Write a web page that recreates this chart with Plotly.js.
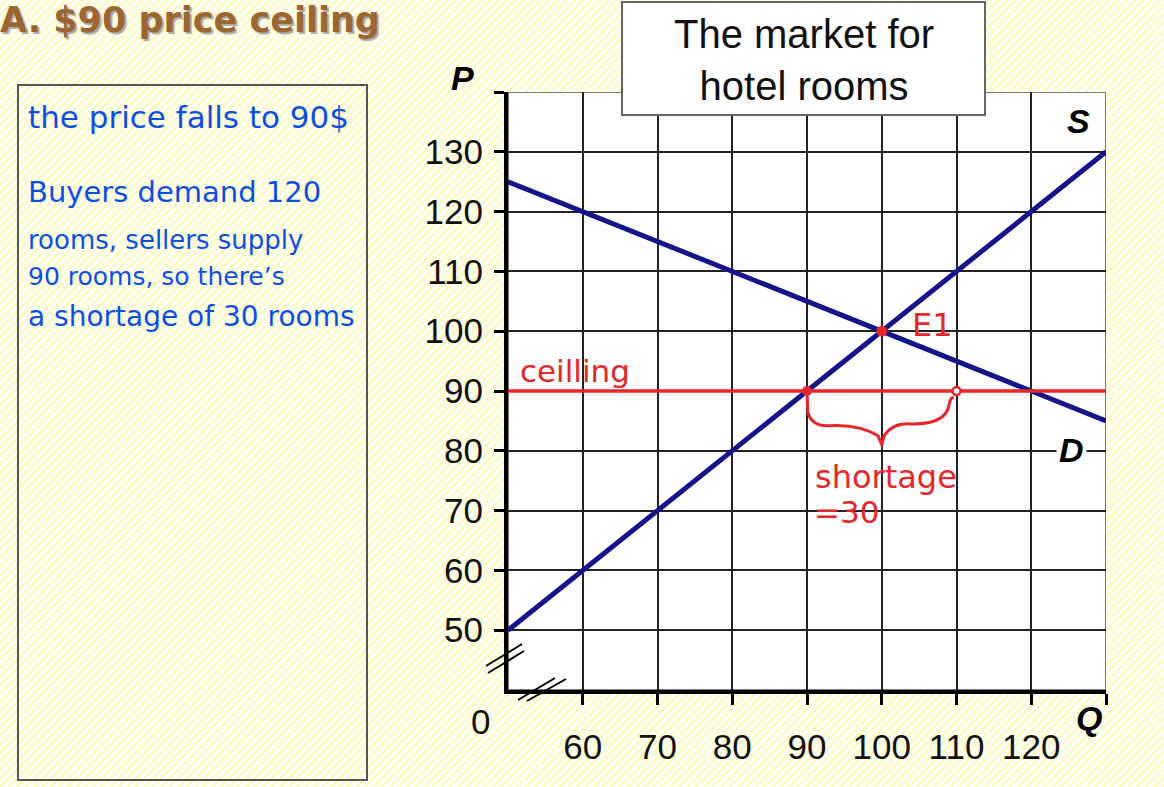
<!DOCTYPE html>
<html>
<head>
<meta charset="utf-8">
<script src="https://cdn.plot.ly/plotly-3.0.1.min.js"></script>
<style>
  html, body { margin: 0; padding: 0; }
  body {
    width: 1164px; height: 787px; overflow: hidden;
    background: repeating-linear-gradient(135deg, #ffffff 0px, #ffffff 3px, #fcfcc4 3px, #fcfcc4 6px);
  }
  #chart { width: 1164px; height: 787px; }
</style>
</head>
<body>
<div id="chart"></div>
<script>
// ---- data ----
const quantityTicks = [60, 70, 80, 90, 100, 110, 120, 130];
const quantityTickLabels = ['60', '70', '80', '90', '100', '110', '120', ''];
const priceTicks = [50, 60, 70, 80, 90, 100, 110, 120, 130, 140];
const priceTickLabels = ['50', '60', '70', '80', '90', '100', '110', '120', '130', ''];
const supplyQ = [50, 130];
const supplyP = [50, 130];
const demandQ = [50, 130];
const demandP = [125, 85];
const ceilingQ = [50, 130];
const ceilingP = [90, 90];
const equilibriumQ = [100];
const equilibriumP = [100];
const ceilingDotsQ = [90];
const ceilingDotsP = [90];
const markedQ = [110];
const markedP = [90];
const noteLines = [
  'the price falls to 90$',
  'Buyers demand 120',
  'rooms, sellers supply',
  '90 rooms, so there\u2019s',
  'a shortage of 30 rooms'
];

// ---- layout helpers (pixel placement) ----
const W = 1164, H = 787;
const px = x => x / W;
const py = y => 1 - y / H;

const navy = '#15158a';
const red = '#e5262a';
const blue = '#0c4fe0';
const hand = 'DejaVu Sans, sans-serif';

const traces = [
  { x: supplyQ, y: supplyP, mode: 'lines', line: { color: navy, width: 5 }, hoverinfo: 'skip', name: 'S' },
  { x: demandQ, y: demandP, mode: 'lines', line: { color: navy, width: 5 }, hoverinfo: 'skip', name: 'D' },
  { x: ceilingQ, y: ceilingP, mode: 'lines', line: { color: red, width: 3.5 }, hoverinfo: 'skip', name: 'ceiling' },
  { x: equilibriumQ, y: equilibriumP, mode: 'markers', marker: { color: red, size: 11 }, hoverinfo: 'skip', cliponaxis: false },
  { x: ceilingDotsQ, y: ceilingDotsP, mode: 'markers', marker: { color: red, size: 10 }, hoverinfo: 'skip', cliponaxis: false },
  { x: markedQ, y: markedP, mode: 'markers', marker: { color: 'white', size: 8, line: { color: red, width: 2.5 } }, hoverinfo: 'skip', cliponaxis: false }
];

// brace under the ceiling between the two marked quantities
function bracePath(xa, xb, y) {
  const m = (xa + xb) / 2;
  return `M ${xa} ${y} L ${xa + 0.1} ${y - 3.5} Q ${xa + 0.6} ${y - 6} ${xa + 3} ${y - 5.8}`
       + ` Q ${m - 3} ${y - 5.5} ${m - 0.5} ${y - 7.5} L ${m} ${y - 9}`
       + ` L ${m + 0.3} ${y - 7.5} Q ${m + 1.5} ${y - 5.2} ${m + 4} ${y - 5.5}`
       + ` Q ${xb - 1.5} ${y - 5.6} ${xb - 1} ${y - 2.4} Q ${xb - 0.9} ${y - 1.2} ${xb - 0.4} ${y - 1}`;
}

const shapes = [
  // plot frame (top/right)
  { type: 'rect', xref: 'x', yref: 'y', x0: 50, x1: 130, y0: 40, y1: 140, line: { color: '#777', width: 2 }, layer: 'below' },
  // brace
  { type: 'path', xref: 'x', yref: 'y', path: bracePath(ceilingDotsQ[0], markedQ[0], ceilingP[0]), line: { color: red, width: 3 } },
  // title box
  { type: 'rect', xref: 'paper', yref: 'paper', x0: px(622), x1: px(985), y0: py(115), y1: py(2), fillcolor: 'white', line: { color: '#666', width: 2 }, layer: 'above' },
  // notes box
  { type: 'rect', xref: 'paper', yref: 'paper', x0: px(18), x1: px(367), y0: py(780), y1: py(85), line: { color: '#555', width: 2 } },
  // axis break marks
  { type: 'line', xref: 'paper', yref: 'paper', x0: px(486), y0: py(666), x1: px(522), y1: py(644), line: { color: 'black', width: 2 } },
  { type: 'line', xref: 'paper', yref: 'paper', x0: px(488), y0: py(673), x1: px(524), y1: py(651), line: { color: 'black', width: 2 } },
  { type: 'line', xref: 'paper', yref: 'paper', x0: px(518), y0: py(700), x1: px(555), y1: py(678), line: { color: 'black', width: 2 } },
  { type: 'line', xref: 'paper', yref: 'paper', x0: px(527), y0: py(701), x1: px(566), y1: py(679), line: { color: 'black', width: 2 } }
];

const noteY = [117, 192, 240, 276, 316];
const noteSize = [31, 29, 26, 25, 28];

const annotations = [
  { text: 'A. $90 price ceiling', xref: 'paper', yref: 'paper', x: px(-2), y: py(20), xanchor: 'left', yanchor: 'middle', showarrow: false,
    font: { family: 'DejaVu Sans, sans-serif', size: 35, color: '#9c6632', weight: 'bold', shadow: '2px 2px 1px #a8a8a8' } },
  { text: 'The market for<br>hotel rooms', xref: 'paper', yref: 'paper', x: px(804), y: py(60), xanchor: 'center', yanchor: 'middle', showarrow: false,
    font: { family: 'Liberation Sans, Arial, sans-serif', size: 40, color: '#111' } },
  { text: 'P', xref: 'paper', yref: 'paper', x: px(463), y: py(78), xanchor: 'center', yanchor: 'middle', showarrow: false,
    font: { family: 'Liberation Sans, Arial, sans-serif', size: 34, color: '#000', weight: 'bold', style: 'italic' } },
  { text: 'Q', xref: 'paper', yref: 'paper', x: px(1089), y: py(718), xanchor: 'center', yanchor: 'middle', showarrow: false,
    font: { family: 'Liberation Sans, Arial, sans-serif', size: 34, color: '#000', weight: 'bold', style: 'italic' } },
  { text: '0', xref: 'paper', yref: 'paper', x: px(481), y: py(721), xanchor: 'center', yanchor: 'middle', showarrow: false,
    font: { family: 'Liberation Sans, Arial, sans-serif', size: 35, color: '#111' } },
  { text: 'S', xref: 'paper', yref: 'paper', x: px(1078), y: py(121), xanchor: 'center', yanchor: 'middle', showarrow: false,
    font: { family: 'Liberation Sans, Arial, sans-serif', size: 34, color: '#000', weight: 'bold', style: 'italic' } },
  { text: 'D', xref: 'paper', yref: 'paper', x: px(1071), y: py(450), xanchor: 'center', yanchor: 'middle', showarrow: false,
    bgcolor: 'white', borderpad: 2,
    font: { family: 'Liberation Sans, Arial, sans-serif', size: 34, color: '#000', weight: 'bold', style: 'italic' } },
  // red handwriting
  { text: 'ceilling', xref: 'x', yref: 'y', x: 51.3, y: 90, xanchor: 'left', yanchor: 'bottom', yshift: 0, showarrow: false,
    font: { family: hand, size: 31, color: red } },
  { text: 'E1', xref: 'x', yref: 'y', x: equilibriumQ[0], y: equilibriumP[0], xanchor: 'left', yanchor: 'middle', xshift: 28, yshift: 6, showarrow: false,
    font: { family: hand, size: 32, color: red } },
  { text: 'shortage', xref: 'x', yref: 'y', x: 100.6, y: 75.6, xanchor: 'center', yanchor: 'middle', showarrow: false,
    font: { family: hand, size: 32, color: red } },
  { text: '=30', xref: 'x', yref: 'y', x: 95.3, y: 69.8, xanchor: 'center', yanchor: 'middle', showarrow: false,
    font: { family: hand, size: 31, color: red } }
];

noteLines.forEach((t, i) => {
  annotations.push({ text: t, xref: 'paper', yref: 'paper', x: px(26), y: py(noteY[i]), xanchor: 'left', yanchor: 'middle', showarrow: false,
    font: { family: hand, size: noteSize[i], color: blue } });
});

const tickFont = { family: 'Liberation Sans, Arial, sans-serif', size: 35, color: '#111' };

const layout = {
  width: W, height: H,
  margin: { l: 0, r: 0, t: 0, b: 0, pad: 0 },
  paper_bgcolor: 'rgba(0,0,0,0)',
  plot_bgcolor: 'white',
  showlegend: false,
  xaxis: {
    domain: [px(508), px(1106)],
    range: [50, 130], tickmode: 'array', tickvals: quantityTicks, ticktext: quantityTickLabels,
    showgrid: true, gridcolor: '#222', gridwidth: 2, zeroline: false,
    showline: true, linecolor: '#000', linewidth: 4,
    ticks: 'outside', ticklen: 11, tickwidth: 3, tickcolor: '#000',
    tickfont: tickFont, ticklabelstandoff: 12, automargin: false, fixedrange: true
  },
  yaxis: {
    domain: [py(690), py(92)],
    range: [40, 140], tickmode: 'array', tickvals: priceTicks, ticktext: priceTickLabels,
    showgrid: true, gridcolor: '#222', gridwidth: 2, zeroline: false,
    showline: true, linecolor: '#000', linewidth: 4,
    ticks: 'outside', ticklen: 10, tickwidth: 3, tickcolor: '#000',
    tickfont: tickFont, ticklabelstandoff: 4, automargin: false, fixedrange: true
  },
  shapes: shapes,
  annotations: annotations
};

Plotly.newPlot('chart', traces, layout, { displayModeBar: false, staticPlot: true });
</script>
</body>
</html>
